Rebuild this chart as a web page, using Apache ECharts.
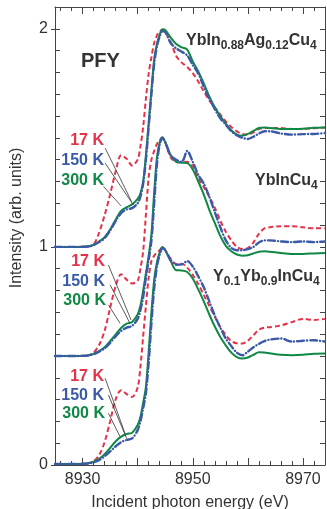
<!DOCTYPE html>
<html><head><meta charset="utf-8">
<script src="https://cdn.jsdelivr.net/npm/echarts@6/dist/echarts.min.js"></script>
<style>html,body{margin:0;padding:0;background:#fff}#c{width:327px;height:509px}</style>
</head><body><div id="c"></div>
<script>
// Incident photon energy (eV) sampling grid
const energy = [8925, 8929, 8931, 8932, 8933, 8934, 8935, 8936, 8937, 8938, 8939, 8940,
  8940.5, 8941, 8941.5, 8942, 8942.5, 8943, 8943.5, 8944, 8944.5,
  8945, 8946, 8947, 8948, 8949, 8950, 8951, 8952, 8953, 8954, 8955, 8956, 8957, 8958, 8959, 8960, 8961, 8962, 8963, 8964,
  8966, 8968, 8970, 8972, 8974];

// YbIn0.88Ag0.12Cu4 (offset spectra)
const agRed17K = [1.000, 1.000, 1.002, 1.010, 1.065, 1.145, 1.240, 1.345, 1.420, 1.404, 1.373, 1.400,
  1.460, 1.550, 1.680, 1.795, 1.870, 1.935, 1.970, 1.988, 1.994,
  1.985, 1.940, 1.875, 1.845, 1.825, 1.797, 1.758, 1.713, 1.672, 1.640, 1.607, 1.575, 1.550, 1.530, 1.518, 1.515, 1.525, 1.540, 1.545, 1.545,
  1.545, 1.541, 1.541, 1.544, 1.548];
const agBlue150K = [1.000, 1.000, 1.002, 1.008, 1.022, 1.040, 1.075, 1.118, 1.155, 1.172, 1.178, 1.200,
  1.230, 1.290, 1.400, 1.550, 1.700, 1.840, 1.920, 1.965, 1.990,
  1.985, 1.935, 1.910, 1.895, 1.878, 1.835, 1.795, 1.735, 1.680, 1.632, 1.590, 1.560, 1.530, 1.512, 1.500, 1.495, 1.505, 1.520, 1.530, 1.530,
  1.520, 1.515, 1.517, 1.518, 1.522];
const agGreen300K = [1.000, 1.000, 1.003, 1.010, 1.025, 1.045, 1.080, 1.125, 1.165, 1.182, 1.195, 1.220,
  1.245, 1.300, 1.420, 1.570, 1.720, 1.860, 1.930, 1.975, 1.998,
  1.995, 1.960, 1.930, 1.915, 1.905, 1.850, 1.805, 1.750, 1.690, 1.640, 1.600, 1.565, 1.535, 1.515, 1.510, 1.518, 1.532, 1.545, 1.548, 1.545,
  1.541, 1.541, 1.542, 1.546, 1.548];

// YbInCu4
const ybRed17K = [0.500, 0.500, 0.503, 0.515, 0.550, 0.615, 0.720, 0.820, 0.875, 0.850, 0.832, 0.845,
  0.900, 0.980, 1.150, 1.320, 1.400, 1.440, 1.472, 1.490, 1.500,
  1.480, 1.410, 1.390, 1.388, 1.390, 1.370, 1.315, 1.275, 1.230, 1.180, 1.120, 1.070, 1.030, 1.000, 0.990, 0.995, 1.020, 1.060, 1.085, 1.090,
  1.095, 1.095, 1.090, 1.085, 1.085];
const ybBlue150K = [0.500, 0.500, 0.502, 0.508, 0.520, 0.535, 0.560, 0.590, 0.615, 0.630, 0.638, 0.670,
  0.710, 0.770, 0.860, 0.940, 1.030, 1.200, 1.380, 1.470, 1.500,
  1.480, 1.420, 1.400, 1.390, 1.440, 1.390, 1.330, 1.290, 1.230, 1.160, 1.090, 1.030, 0.995, 0.985, 0.985, 0.990, 1.000, 1.020, 1.030, 1.030,
  1.025, 1.022, 1.025, 1.022, 1.025];
const ybGreen300K = [0.500, 0.500, 0.502, 0.510, 0.522, 0.540, 0.568, 0.598, 0.628, 0.648, 0.656, 0.690,
  0.730, 0.800, 0.880, 0.960, 1.060, 1.250, 1.410, 1.480, 1.503,
  1.480, 1.420, 1.390, 1.386, 1.384, 1.355, 1.300, 1.240, 1.170, 1.110, 1.050, 1.005, 0.980, 0.965, 0.960, 0.962, 0.970, 0.978, 0.980, 0.978,
  0.972, 0.968, 0.968, 0.970, 0.972];

// Y0.1Yb0.9InCu4
const yRed17K = [0.005, 0.005, 0.008, 0.017, 0.045, 0.105, 0.200, 0.300, 0.343, 0.325, 0.312, 0.355,
  0.450, 0.590, 0.730, 0.860, 0.935, 0.960, 0.975, 0.985, 0.998,
  0.985, 0.945, 0.922, 0.923, 0.905, 0.872, 0.830, 0.780, 0.730, 0.680, 0.633, 0.595, 0.568, 0.558, 0.557, 0.570, 0.595, 0.620, 0.630, 0.632,
  0.640, 0.655, 0.670, 0.665, 0.670];
const yBlue150K = [0.005, 0.005, 0.007, 0.012, 0.022, 0.040, 0.062, 0.085, 0.105, 0.115, 0.122, 0.160,
  0.200, 0.260, 0.330, 0.470, 0.650, 0.810, 0.910, 0.965, 0.995,
  0.985, 0.940, 0.918, 0.920, 0.935, 0.910, 0.865, 0.815, 0.750, 0.685, 0.630, 0.580, 0.545, 0.515, 0.503, 0.520, 0.540, 0.555, 0.568, 0.575,
  0.580, 0.566, 0.570, 0.572, 0.566];
const yGreen300K = [0.005, 0.005, 0.008, 0.015, 0.028, 0.050, 0.078, 0.108, 0.130, 0.142, 0.148, 0.183,
  0.220, 0.285, 0.360, 0.520, 0.700, 0.850, 0.930, 0.975, 0.999,
  0.985, 0.935, 0.893, 0.892, 0.885, 0.855, 0.805, 0.750, 0.690, 0.635, 0.587, 0.548, 0.515, 0.495, 0.488, 0.493, 0.505, 0.517, 0.516, 0.512,
  0.505, 0.503, 0.505, 0.510, 0.511];

// Axis ticks and labels
const xTickLabels = [8930, 8950, 8970];
const xMajorTicks = [8930, 8940, 8950, 8960, 8970];
const xMinorTicks = [8926, 8928, 8930, 8932, 8934, 8936, 8938, 8940, 8942, 8944, 8946, 8948, 8950,
  8952, 8954, 8956, 8958, 8960, 8962, 8964, 8966, 8968, 8970, 8972, 8974];
const yTickLabels = [0, 1, 2];
const yMinorTicks = [0, 0.1, 0.2, 0.3, 0.4, 0.5, 0.6, 0.7, 0.8, 0.9, 1, 1.1, 1.2, 1.3, 1.4, 1.5, 1.6, 1.7, 1.8, 1.9, 2, 2.1];

// Leader lines from temperature labels to curves (data coordinates)
const leaderLines = [
  [[8934.1, 1.453], [8938.9, 1.208]],
  [[8934.1, 1.384], [8939.2, 1.193]],
  [[8933.8, 1.277], [8937.0, 1.188]],
  [[8934.7, 0.917], [8938.8, 0.665]],
  [[8935.0, 0.826], [8938.6, 0.650]],
  [[8934.7, 0.734], [8936.8, 0.650]],
  [[8934.1, 0.398], [8937.7, 0.145]],
  [[8934.7, 0.321], [8938.0, 0.122]],
  [[8934.7, 0.237], [8936.8, 0.130]]
];

const FONT = "'Liberation Sans', Arial, Helvetica, sans-serif";
const RED = '#e5324b', BLUE = '#3a5aa8', GREEN = '#108845';
const AX = '#444';

function pts(arr) { return energy.map((e, i) => [e, arr[i]]); }
function redS(arr) {
  return { type: 'line', data: pts(arr), showSymbol: false, smooth: 0.3, xAxisIndex: 0, yAxisIndex: 0,
    lineStyle: { color: RED, width: 2, type: [5, 3] }, silent: true, z: 3 };
}
function blueS(arr) {
  return { type: 'line', data: pts(arr), showSymbol: false, smooth: 0.3, xAxisIndex: 0, yAxisIndex: 0,
    lineStyle: { color: BLUE, width: 2.4, type: [7, 3, 0.1, 3], cap: 'round' }, silent: true, z: 5 };
}
function greenS(arr) {
  return { type: 'line', data: pts(arr), showSymbol: false, smooth: 0.3, xAxisIndex: 0, yAxisIndex: 0,
    lineStyle: { color: GREEN, width: 2 }, silent: true, z: 4 };
}

const chart = echarts.init(document.getElementById('c'), null, { renderer: 'canvas' });

const xBase = { type: 'value', min: 8925, max: 8974, gridIndex: 0, splitLine: { show: false } };
const yBase = { type: 'value', min: 0, max: 2.1, gridIndex: 0, splitLine: { show: false } };
const plain = v => String(v);

const option = {
  animation: false,
  backgroundColor: '#fff',
  grid: { left: 55, right: 2, top: 7, bottom: 44, containLabel: false, outerBoundsMode: 'none' },
  xAxis: [
    Object.assign({}, xBase, { position: 'bottom',
      axisLine: { show: true, onZero: false, lineStyle: { color: AX, width: 1 } },
      axisTick: { show: true, inside: true, length: 7, customValues: xMajorTicks, lineStyle: { color: AX } },
      axisLabel: { show: true, customValues: xTickLabels, formatter: plain, fontSize: 16, color: '#333', margin: 7, fontFamily: FONT },
      name: 'Incident photon energy (eV)', nameLocation: 'middle', nameGap: 30,
      nameTextStyle: { fontSize: 16, color: '#333', fontFamily: FONT } }),
    Object.assign({}, xBase, { position: 'bottom',
      axisLine: { show: false, onZero: false },
      axisTick: { show: true, inside: true, length: 4, customValues: xMinorTicks, lineStyle: { color: AX } },
      axisLabel: { show: false } }),
    Object.assign({}, xBase, { position: 'top',
      axisLine: { show: true, onZero: false, lineStyle: { color: AX, width: 1 } },
      axisTick: { show: true, inside: true, length: 7, customValues: xMajorTicks, lineStyle: { color: AX } },
      axisLabel: { show: false } }),
    Object.assign({}, xBase, { position: 'top',
      axisLine: { show: false, onZero: false },
      axisTick: { show: true, inside: true, length: 4, customValues: xMinorTicks, lineStyle: { color: AX } },
      axisLabel: { show: false } })
  ],
  yAxis: [
    Object.assign({}, yBase, { position: 'left',
      axisLine: { show: true, onZero: false, lineStyle: { color: AX, width: 1 } },
      axisTick: { show: true, inside: false, length: 4, customValues: yTickLabels, lineStyle: { color: AX } },
      axisLabel: { show: true, customValues: yTickLabels, formatter: plain, fontSize: 16, color: '#333', margin: 7, fontFamily: FONT } }),
    Object.assign({}, yBase, { position: 'left',
      axisLine: { show: false, onZero: false },
      axisTick: { show: true, inside: true, length: 5, customValues: yMinorTicks, lineStyle: { color: AX } },
      axisLabel: { show: false } }),
    Object.assign({}, yBase, { position: 'right',
      axisLine: { show: true, onZero: false, lineStyle: { color: AX, width: 1 } },
      axisTick: { show: true, inside: true, length: 5, customValues: yMinorTicks, lineStyle: { color: AX } },
      axisLabel: { show: false } })
  ],
  series: [
    redS(agRed17K), greenS(agGreen300K), blueS(agBlue150K),
    redS(ybRed17K), greenS(ybGreen300K), blueS(ybBlue150K),
    redS(yRed17K), greenS(yGreen300K), blueS(yBlue150K),
    { type: 'lines', coordinateSystem: 'cartesian2d', xAxisIndex: 0, yAxisIndex: 0, silent: true, z: 6,
      lineStyle: { color: '#333', width: 0.8, opacity: 1 },
      data: leaderLines.map(c => ({ coords: c })) }
  ],
  graphic: []
};

function tempLabel(txt, color, x, y) {
  return { type: 'text', x: x, y: y, z: 10, silent: true,
    style: { text: txt, fill: color, font: 'bold 16px ' + FONT, align: 'right', verticalAlign: 'middle' } };
}
function richLabel(text, x, y) {
  return { type: 'text', x: x, y: y, z: 10, silent: true,
    style: { text: text, align: 'left', verticalAlign: 'middle',
      rich: {
        m: { fill: '#333', fontSize: 16, fontWeight: 'bold', fontFamily: FONT, lineHeight: 22 },
        s: { fill: '#333', fontSize: 12, fontWeight: 'bold', fontFamily: FONT, lineHeight: 12, verticalAlign: 'bottom' }
      } } };
}

option.graphic = [
  { type: 'text', x: 81, y: 61, z: 10, silent: true,
    style: { text: 'PFY', fill: '#333', font: 'bold 20px ' + FONT, align: 'left', verticalAlign: 'middle' } },
  richLabel('{m|YbIn}{s|0.88}{m|Ag}{s|0.12}{m|Cu}{s|4}', 186, 41),
  richLabel('{m|YbInCu}{s|4}', 255, 181),
  richLabel('{m|Y}{s|0.1}{m|Yb}{s|0.9}{m|InCu}{s|4}', 213, 277),
  tempLabel('17 K', RED, 104, 141), tempLabel('150 K', BLUE, 104, 161), tempLabel('300 K', GREEN, 104, 181),
  tempLabel('17 K', RED, 105, 262), tempLabel('150 K', BLUE, 105, 282), tempLabel('300 K', GREEN, 106, 301),
  tempLabel('17 K', RED, 104, 377), tempLabel('150 K', BLUE, 104, 396), tempLabel('300 K', GREEN, 105, 414),
  { type: 'text', x: 17, y: 218, rotation: Math.PI / 2, z: 10, silent: true,
    style: { text: 'Intensity (arb. units)', fill: '#333', font: '16px ' + FONT, align: 'center', verticalAlign: 'middle' } }
];

chart.setOption(option);
</script>
</body></html>
